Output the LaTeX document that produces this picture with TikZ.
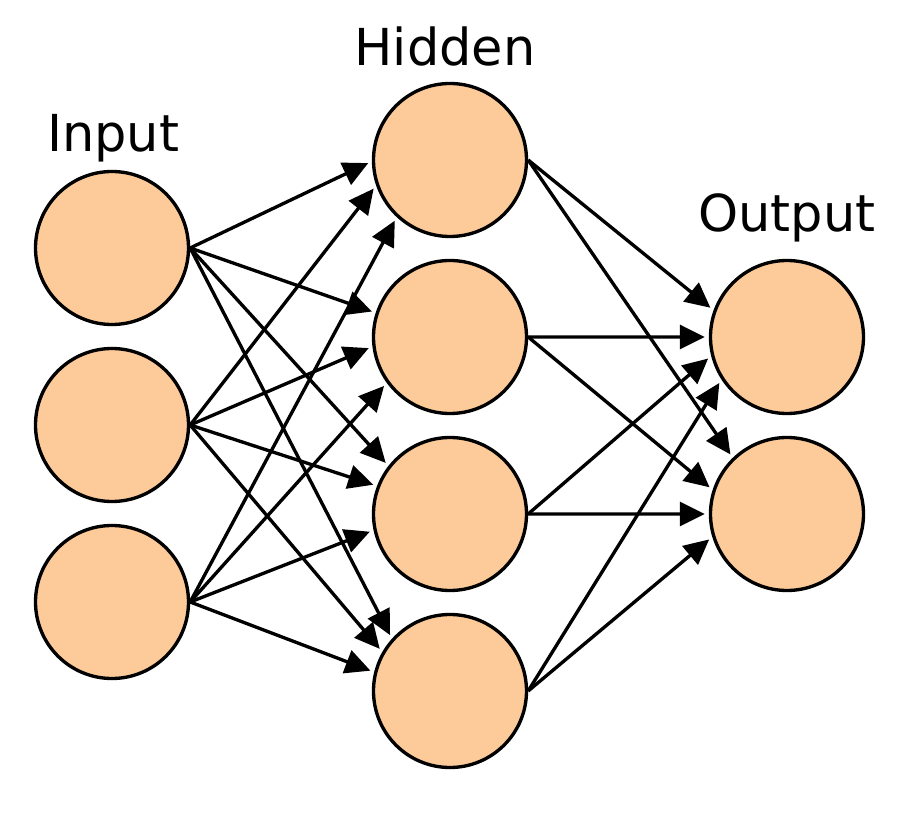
\documentclass[tikz,border=0pt]{standalone}
\usepackage{fontspec}
\setmainfont{DejaVu Sans}
\usepackage{xcolor}
\usepackage{tikz}
\usetikzlibrary{arrows.meta}

\definecolor{neuronfill}{RGB}{253,202,153}

\begin{document}
\begin{tikzpicture}[
    node distance=3.54cm,
    neuron/.style={draw, circle, fill=neuronfill, minimum size=3.06cm, inner sep=0pt, line width=1.9pt},
    layer/.style={font=\fontsize{29}{35}\selectfont, anchor=base, inner sep=0pt},
    arrow/.style={-{Triangle[length=0.5cm, width=0.48cm]}, line width=1.9pt, shorten >=0.08cm}
]
    \useasboundingbox (0,0) rectangle (18,-16.4);

    % Camada de entrada
    \node (i1) [neuron] at (2.24,-4.96) {};
    \node (i2) [neuron, below of=i1] {};
    \node (i3) [neuron, below of=i2] {};

    % Camada oculta
    \node (h1) [neuron] at (9.0,-3.2) {};
    \node (h2) [neuron, below of=h1] {};
    \node (h3) [neuron, below of=h2] {};
    \node (h4) [neuron, below of=h3] {};

    % Camada de saida
    \node (o1) [neuron] at (15.74,-6.74) {};
    \node (o2) [neuron, below of=o1] {};

    % Rotulos das camadas
    \node (lblin) [layer] at (2.26,-3.04) {Input};
    \node (lblhid) [layer] at (8.9,-1.32) {Hidden};
    \node (lblout) [layer] at (15.74,-4.64) {Output};

    % Setas entrada -> oculta
    \draw [arrow] (i1.east) -- (h1.181);
    \draw [arrow] (i1.east) -- (h2.162);
    \draw [arrow] (i1.east) -- (h3.142);
    \draw [arrow] (i1.east) -- (h4.138);
    \draw [arrow] (i2.east) -- (h1.199);
    \draw [arrow] (i2.east) -- (h2.187);
    \draw [arrow] (i2.east) -- (h3.159);
    \draw [arrow] (i2.east) -- (h4.150);
    \draw [arrow] (i3.east) -- (h1.227);
    \draw [arrow] (i3.east) -- (h2.216);
    \draw [arrow] (i3.east) -- (h3.192);
    \draw [arrow] (i3.east) -- (h4.166);

    % Setas oculta -> saida
    \draw [arrow] (h1.east) -- (o1.160);
    \draw [arrow] (h1.east) -- (o2.134);
    \draw [arrow] (h2.east) -- (o1.180);
    \draw [arrow] (h2.east) -- (o2.162);
    \draw [arrow] (h3.east) -- (o1.194);
    \draw [arrow] (h3.east) -- (o2.180);
    \draw [arrow] (h4.east) -- (o1.213);
    \draw [arrow] (h4.east) -- (o2.197);

\end{tikzpicture}
\end{document}
